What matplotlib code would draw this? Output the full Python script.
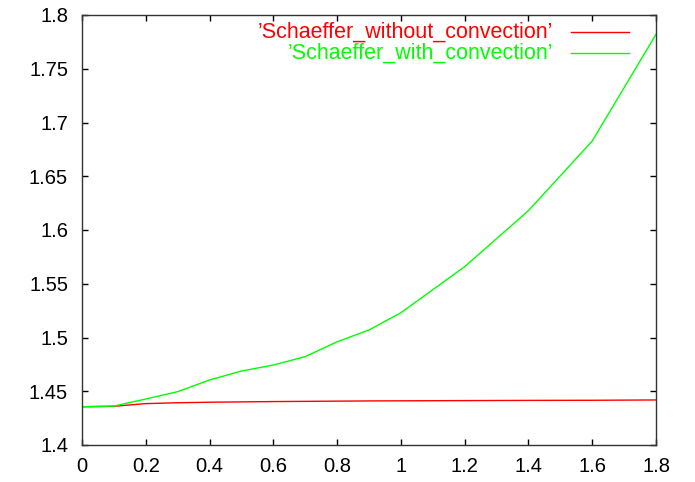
import matplotlib
matplotlib.use("Agg")
import matplotlib.pyplot as plt

x = [0.0, 0.1, 0.2, 0.3, 0.4, 0.5, 0.6, 0.7, 0.8, 0.9, 1.0, 1.2, 1.4, 1.6, 1.8]
without_conv = [1.4356, 1.4360, 1.4385, 1.4393, 1.4398, 1.4401, 1.4404, 1.4406,
                1.4408, 1.4410, 1.4411, 1.4413, 1.4415, 1.4416, 1.4419]
with_conv = [1.4356, 1.4362, 1.4428, 1.4496, 1.4605, 1.4688, 1.4744, 1.4822,
             1.4960, 1.5070, 1.5230, 1.5659, 1.6180, 1.6828, 1.7820]
labels = ["\u2019Schaeffer_without_convection\u2019", "\u2019Schaeffer_with_convection\u2019"]
colors = ["#ff0000", "#00ff00"]
xticks = [0, 0.2, 0.4, 0.6, 0.8, 1, 1.2, 1.4, 1.6, 1.8]
xticklabels = ["0", "0.2", "0.4", "0.6", "0.8", "1", "1.2", "1.4", "1.6", "1.8"]
yticks = [1.4, 1.45, 1.5, 1.55, 1.6, 1.65, 1.7, 1.75, 1.8]
yticklabels = ["1.4", "1.45", "1.5", "1.55", "1.6", "1.65", "1.7", "1.75", "1.8"]

plt.rcParams['font.family'] = ['Liberation Sans', 'DejaVu Sans']

fig = plt.figure(figsize=(6.95, 4.82), dpi=100)
ax = fig.add_axes([82/695, 37/482, 574/695, 430/482])

ax.plot(x, without_conv, color=colors[0], lw=1.0)
ax.plot(x, with_conv, color=colors[1], lw=1.0)

ax.set_xlim(0, 1.8)
ax.set_ylim(1.4, 1.8)
ax.set_xticks(xticks)
ax.set_xticklabels(xticklabels)
ax.set_yticks(yticks)
ax.set_yticklabels(yticklabels)
ax.tick_params(direction='in', length=4, width=1, top=True, right=True,
               labelsize=14.5, colors='black')
ax.tick_params(axis='y', pad=10)
ax.tick_params(axis='x', pad=9)
for s in ax.spines.values():
    s.set_linewidth(1.0)
    s.set_color('#333333')

# legend (gnuplot style: right-aligned text, sample line on the right)
rows_y = [0.9605, 0.9116]
for yy, lab, c in zip(rows_y, labels, colors):
    ax.text(0.8206, yy, lab, transform=ax.transAxes, ha='right', va='center',
            fontsize=15.5, color=c)
    ax.plot([0.852, 0.953], [yy, yy], transform=ax.transAxes, color=c, lw=1.0,
            clip_on=False)

fig.savefig("out.png", dpi=100)
